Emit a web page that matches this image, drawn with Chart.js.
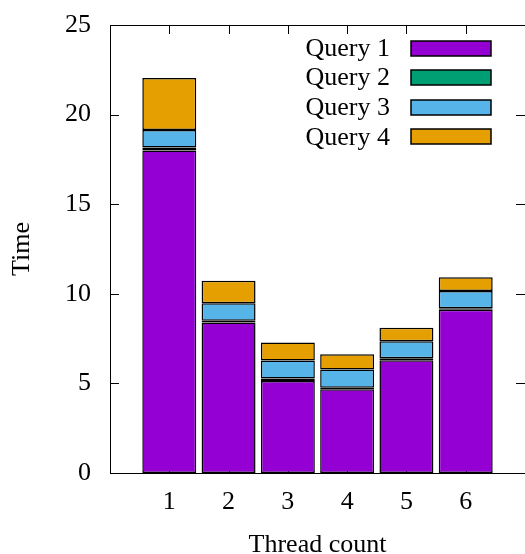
<!DOCTYPE html>
<html>
<head>
<meta charset="utf-8">
<script src="https://cdn.jsdelivr.net/npm/chart.js@4.4.0/dist/chart.umd.min.js"></script>
<style>
html,body{margin:0;padding:0;background:#fff;}
#wrap{width:525px;height:554px;position:relative;}
</style>
</head>
<body>
<div id="wrap"><canvas id="c" width="525" height="554"></canvas></div>
<script>
// ---- data ----
const categories = ['1', '2', '3', '4', '5', '6'];
const seriesNames = ['Query 1', 'Query 2', 'Query 3', 'Query 4'];
const query1 = [18.0, 8.4, 5.13, 4.67, 6.29, 9.11];
const query2 = [0.17, 0.1, 0.15, 0.09, 0.11, 0.08];
const query3 = [0.97, 0.97, 1.0, 1.01, 0.95, 0.97];
const query4 = [2.9, 1.26, 1.0, 0.85, 0.76, 0.76];
const yTicks = [0, 5, 10, 15, 20, 25];
const colors = ['#9400d3', '#009e73', '#56b4e9', '#e69f00'];

const FONT = 'Liberation Serif';
const FS = 26;

// pad with empty slots on both sides so categories sit at 1..6 on a 0..7 span
const labels = [''].concat(categories, ['']);
const pad = arr => [null].concat(arr, [null]);
const allSeries = [query1, query2, query3, query4];

const datasets = allSeries.map((s, i) => ({
  label: seriesNames[i],
  data: pad(s),
  backgroundColor: colors[i],
  borderColor: '#000',
  borderWidth: 1.5,
  borderSkipped: false,
  categoryPercentage: 1.0,
  barPercentage: 0.91
}));

const framePlugin = {
  id: 'frame',
  beforeDatasetsDraw(chart) {
    const ctx = chart.ctx, a = chart.chartArea;
    const xs = chart.scales.x;
    ctx.save();
    ctx.strokeStyle = '#000';
    ctx.lineWidth = 1;
    for (let i = 1; i <= categories.length; i++) {
      const px = Math.round(xs.getPixelForValue(i)) + 0.5;
      ctx.beginPath(); ctx.moveTo(px, a.bottom); ctx.lineTo(px, a.bottom - 9); ctx.stroke();
    }
    ctx.restore();
  },
  afterDraw(chart) {
    const ctx = chart.ctx, a = chart.chartArea;
    const xs = chart.scales.x, ys = chart.scales.y;
    ctx.save();
    ctx.strokeStyle = '#000';
    ctx.lineWidth = 1;
    // top border
    ctx.beginPath(); ctx.moveTo(a.left, Math.round(a.top) + 0.5); ctx.lineTo(a.right, Math.round(a.top) + 0.5); ctx.stroke();
    // top mirror x ticks
    for (let i = 1; i <= categories.length; i++) {
      const px = Math.round(xs.getPixelForValue(i)) + 0.5;
      ctx.beginPath(); ctx.moveTo(px, a.top); ctx.lineTo(px, a.top + 9); ctx.stroke();
    }
    // y ticks inward left and right
    yTicks.forEach(v => {
      const py = Math.round(ys.getPixelForValue(v)) + 0.5;
      ctx.beginPath(); ctx.moveTo(a.left, py); ctx.lineTo(a.left + 9, py); ctx.stroke();
      ctx.beginPath(); ctx.moveTo(a.right - 9, py); ctx.lineTo(a.right, py); ctx.stroke();
    });
    // legend
    const textRight = 390, boxL = 411, boxW = 80, boxH = 15;
    const y0 = 48, dy = 29.6;
    ctx.font = FS + 'px "' + FONT + '"';
    ctx.textAlign = 'right';
    ctx.textBaseline = 'middle';
    chart.data.datasets.forEach((ds, i) => {
      const cy = y0 + i * dy;
      ctx.fillStyle = '#000';
      ctx.fillText(ds.label, textRight, cy + 1);
      ctx.fillStyle = ds.backgroundColor;
      ctx.fillRect(boxL, Math.round(cy - boxH / 2), boxW, boxH);
      ctx.lineWidth = 1.5;
      ctx.strokeStyle = '#000';
      ctx.strokeRect(boxL, Math.round(cy - boxH / 2), boxW, boxH);
    });
    ctx.restore();
  }
};

new Chart(document.getElementById('c'), {
  type: 'bar',
  data: { labels: labels, datasets: datasets },
  options: {
    responsive: false,
    animation: false,
    layout: { padding: { top: 25, right: 0, left: 0, bottom: 0 } },
    plugins: { legend: { display: false }, tooltip: { enabled: false } },
    scales: {
      x: {
        stacked: true,
        offset: false,
        grid: { display: false, drawTicks: false },
        border: { display: true, color: '#000', width: 1 },
        ticks: { color: '#000', font: { family: FONT, size: FS }, padding: 14, maxRotation: 0, autoSkip: false },
        title: { display: true, text: 'Thread count', color: '#000', font: { family: FONT, size: FS, lineHeight: 1 }, padding: { top: 0, bottom: -4 } },
        afterFit(s) { s.height = 81; s.paddingLeft = 0; s.paddingRight = 0; }
      },
      y: {
        stacked: true,
        min: 0, max: 25,
        grid: { display: false, drawTicks: false },
        border: { display: true, color: '#000', width: 1 },
        afterBuildTicks(s) { s.ticks = yTicks.map(v => ({ value: v })); },
        ticks: { color: '#000', font: { family: FONT, size: FS }, padding: 19 },
        title: { display: true, text: 'Time', color: '#000', font: { family: FONT, size: FS, lineHeight: 1 }, padding: { top: 9, bottom: 0 } },
        afterFit(s) { s.width = 110; s.paddingTop = 0; s.paddingBottom = 0; }
      }
    }
  },
  plugins: [framePlugin]
});
</script>
</body>
</html>
